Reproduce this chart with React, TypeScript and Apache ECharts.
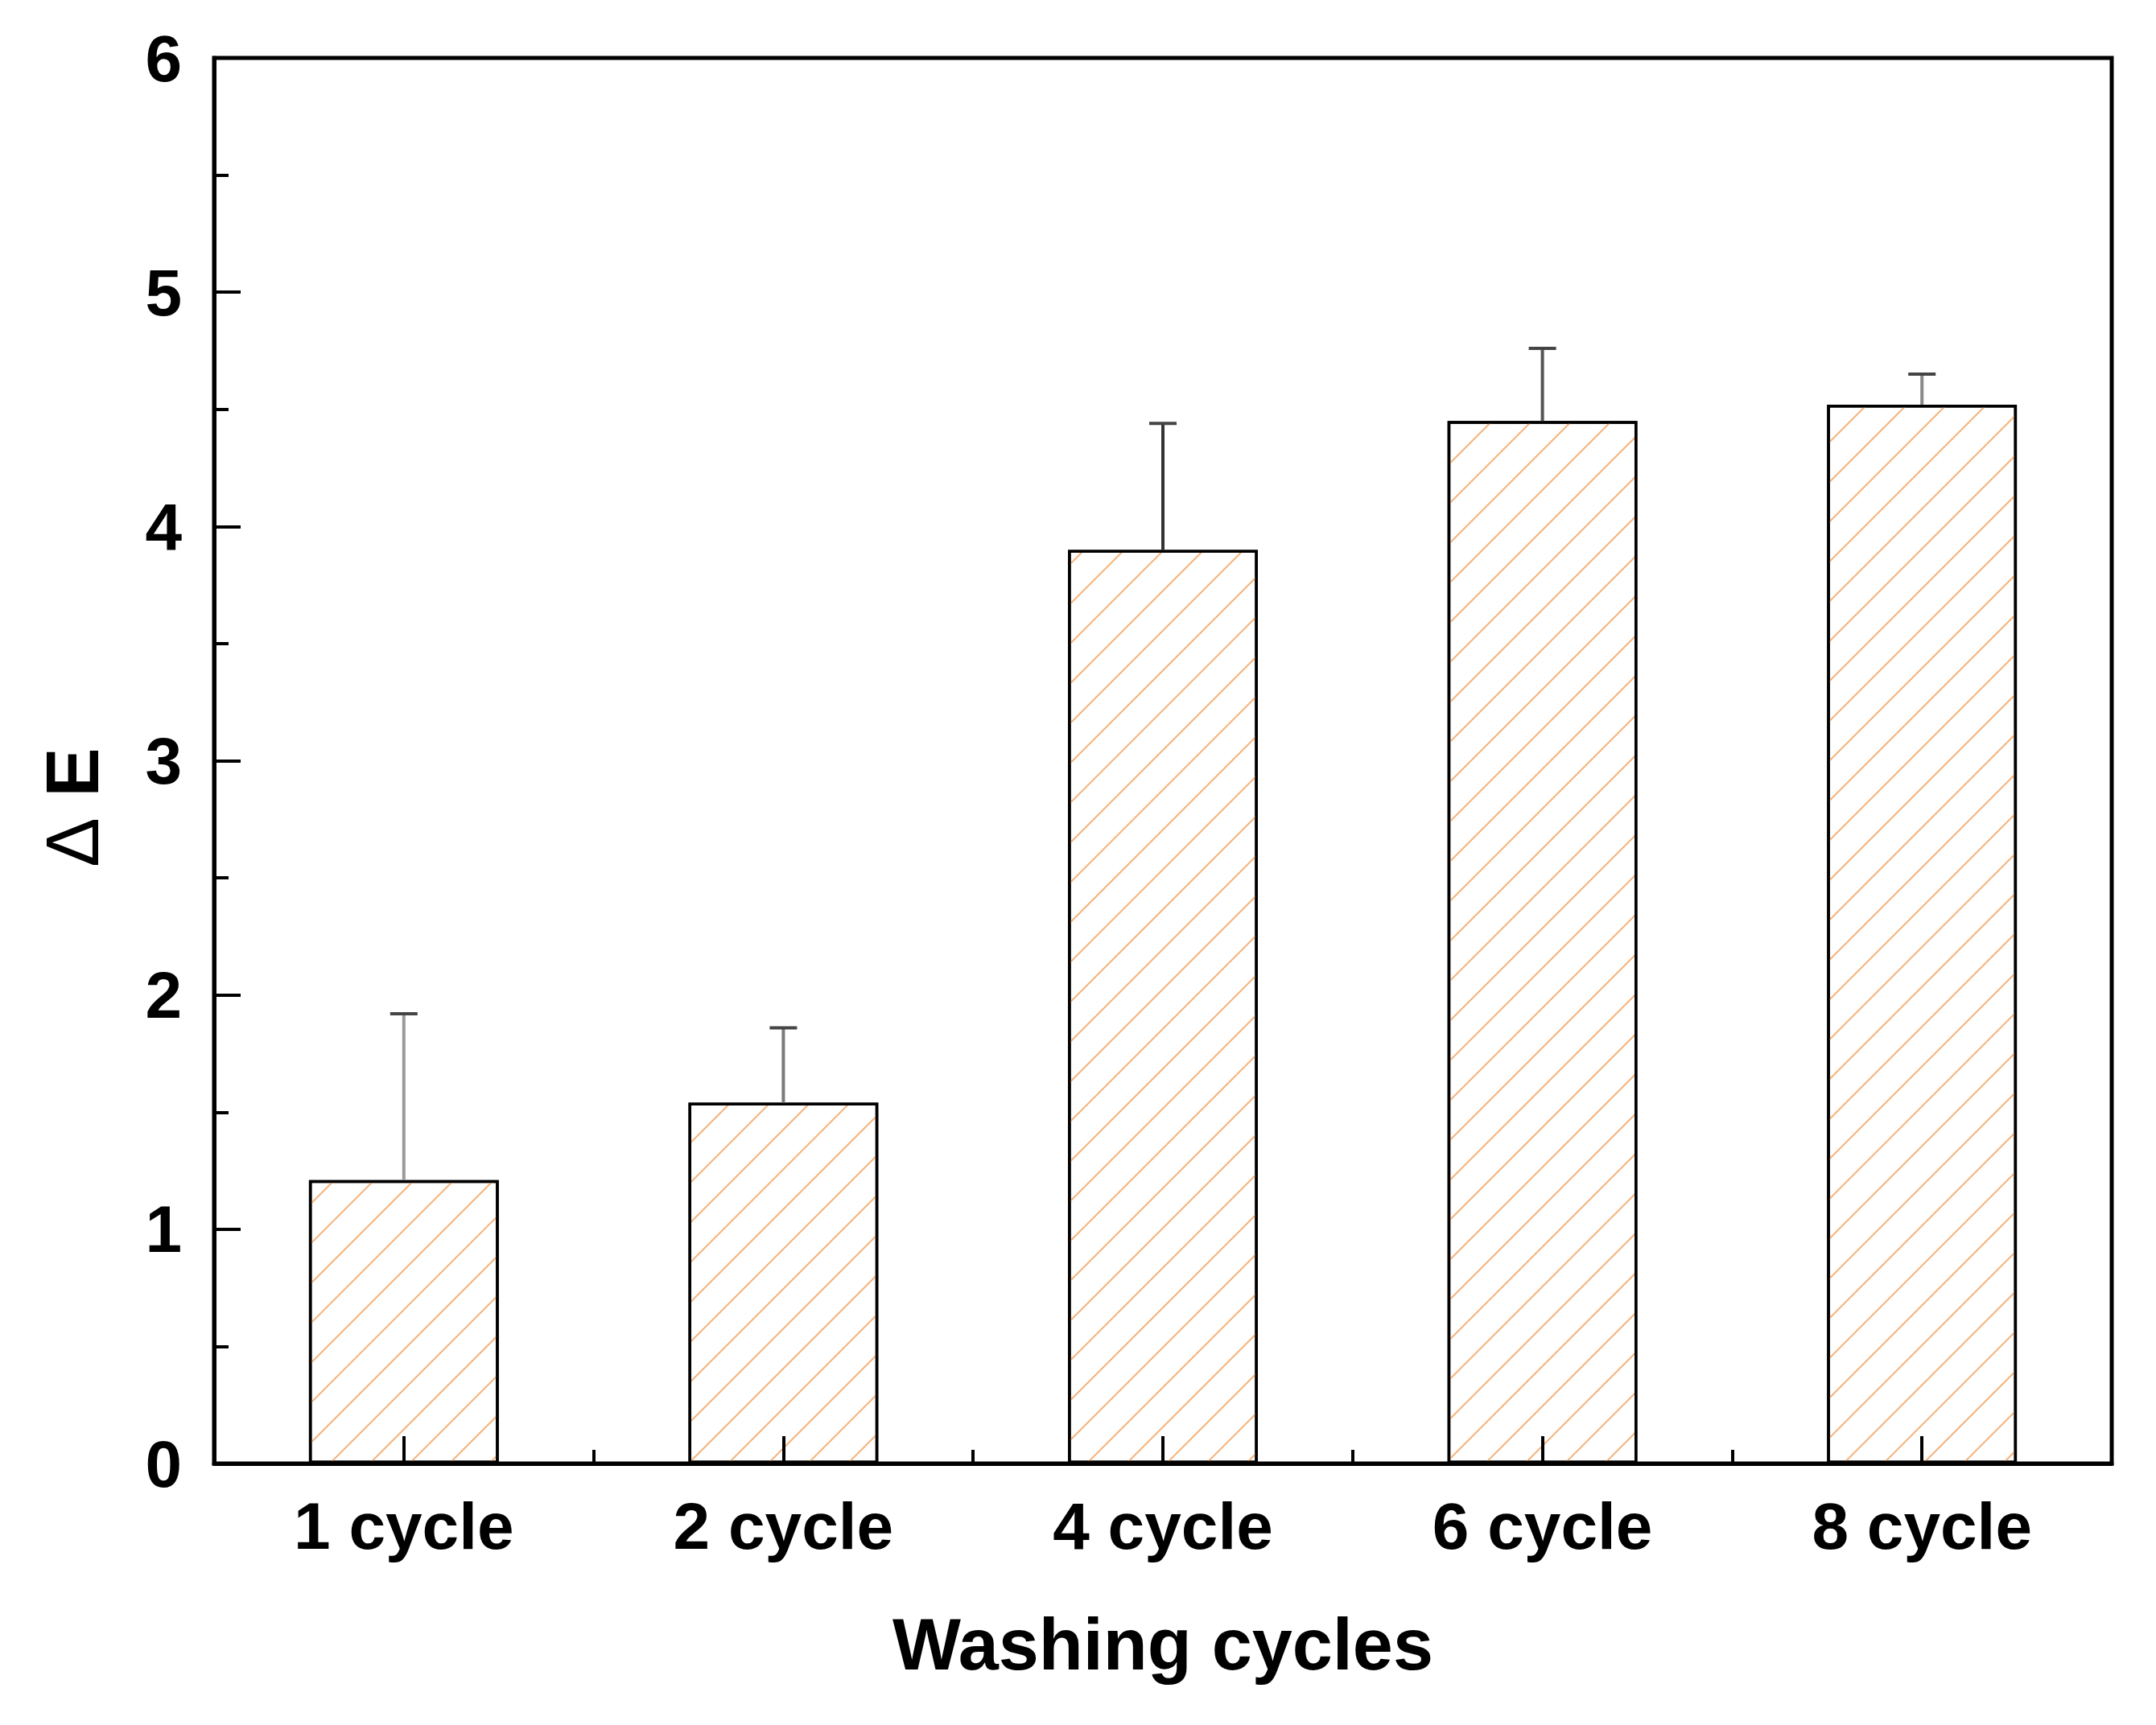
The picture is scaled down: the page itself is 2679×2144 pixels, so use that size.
import React, { useEffect, useRef } from "react";
import * as echarts from "echarts";

const categories = ["1 cycle", "2 cycle", "4 cycle", "6 cycle", "8 cycle"];
const deltaE = [1.21, 1.54, 3.9, 4.45, 4.52];
const errorUp = [0.71, 0.32, 0.54, 0.31, 0.13];
const yTicks = [0, 1, 2, 3, 4, 5, 6];
const errColors = ["#9a9a9a", "#7a7a7a", "#333333", "#555555", "#8a8a8a"];

const FONT = 'Arial, "Liberation Sans", sans-serif';

export default function App() {
  const ref = useRef<HTMLDivElement>(null);
  useEffect(() => {
    document.body.style.margin = "0";
    const chart = echarts.init(ref.current!, null, { renderer: "svg" });
    const errData = categories.map((c, i) => [i, deltaE[i], deltaE[i] + errorUp[i]]);
    chart.setOption({
      animation: false,
      backgroundColor: "#ffffff",
      grid: {
        left: 266,
        right: 55,
        top: 72,
        bottom: 325,
        show: true,
        borderColor: "#000",
        borderWidth: 5,
        backgroundColor: "transparent",
      },
      xAxis: [
        {
          type: "category",
          data: categories,
          position: "bottom",
          z: 10,
          name: "Washing cycles",
          nameLocation: "middle",
          nameGap: 180,
          nameTextStyle: { fontFamily: FONT, fontWeight: "bold", fontSize: 90, color: "#000" },
          axisLine: { show: true, lineStyle: { color: "#000", width: 5 } },
          axisTick: { show: true, inside: true, alignWithLabel: true, length: 34, lineStyle: { color: "#000", width: 4 } },
          axisLabel: { fontFamily: FONT, fontWeight: "bold", fontSize: 82, color: "#000", margin: 36 },
          splitLine: { show: false },
        },
        {
          type: "category",
          data: categories,
          position: "bottom",
          z: 10,
          axisLine: { show: false },
          axisTick: { show: true, inside: true, length: 17, lineStyle: { color: "#000", width: 4 } },
          axisLabel: { show: false },
          splitLine: { show: false },
        },
      ],
      yAxis: {
        type: "value",
        min: yTicks[0],
        max: yTicks[yTicks.length - 1],
        interval: 1,
        z: 10,
        name: "{d|Δ} {e|E}",
        nameLocation: "middle",
        nameGap: 130,
        nameRotate: 90,
        nameTextStyle: {
          fontFamily: FONT,
          fontSize: 92,
          color: "#000",
          padding: [0, 116, 0, 0],
          rich: {
            d: { fontFamily: FONT, fontSize: 92, fontWeight: "normal", color: "#000" },
            e: { fontFamily: FONT, fontSize: 92, fontWeight: "bold", color: "#000" },
          },
        },
        axisLine: { show: true, lineStyle: { color: "#000", width: 5 } },
        axisTick: { show: true, inside: true, length: 33, lineStyle: { color: "#000", width: 4 } },
        minorTick: { show: true, splitNumber: 2, length: 18, lineStyle: { color: "#000", width: 4 } },
        axisLabel: { fontFamily: FONT, fontWeight: "bold", fontSize: 82, color: "#000", margin: 40 },
        splitLine: { show: false },
      },
      series: [
        {
          type: "bar",
          xAxisIndex: 0,
          data: deltaE,
          barWidth: "50%",
          itemStyle: {
            color: "#ffffff",
            borderColor: "#000",
            borderWidth: 3.5,
            decal: {
              symbol: "rect",
              color: "#f5b27a",
              dashArrayX: [1, 0],
              dashArrayY: [2, 33],
              rotation: -Math.PI / 4,
              symbolSize: 1,
            },
          },
          z: 2,
        },
        {
          type: "custom",
          xAxisIndex: 0,
          data: errData,
          z: 3,
          renderItem: (params: any, api: any) => {
            const i = api.value(0);
            const base = api.coord([i, api.value(1)]);
            const top = api.coord([i, api.value(2)]);
            const col = errColors[params.dataIndex];
            return {
              type: "group",
              children: [
                {
                  type: "line",
                  shape: { x1: base[0], y1: base[1], x2: top[0], y2: top[1] },
                  style: { stroke: col, lineWidth: 4 },
                },
                {
                  type: "line",
                  shape: { x1: top[0] - 17, y1: top[1], x2: top[0] + 17, y2: top[1] },
                  style: { stroke: "#444", lineWidth: 4 },
                },
              ],
            };
          },
        },
      ],
    });
    return () => chart.dispose();
  }, []);
  return <div ref={ref} style={{ width: 2679, height: 2144 }} />;
}
